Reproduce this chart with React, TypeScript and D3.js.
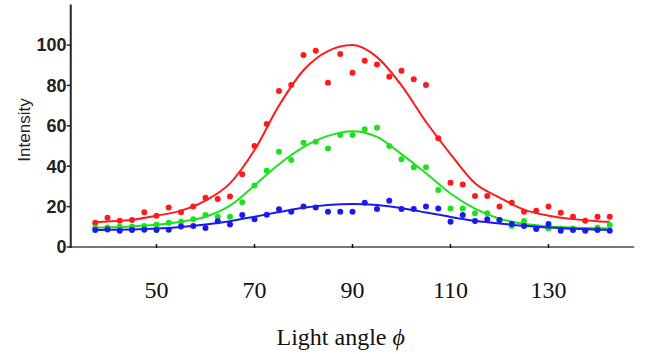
import React from 'react'
import * as d3 from 'd3'

// measured angles, 2.5 degree steps
const angles = d3.range(43).map(i => 37.5 + 2.5 * i)

const redPoints = [12, 14.5, 13, 13.4, 17.2, 15.5, 19.6, 17.2, 20, 24.4, 23.8, 25, 36, 50, 60.9, 77.2, 80.2, 95, 97.2, 81.3, 95.6, 86.3, 92.2, 90.4, 84.3, 87.3, 83, 80.2, 53.8, 31.8, 31, 25.2, 25.2, 20, 21.9, 17.5, 18, 20, 17, 15, 13, 15, 15]
const greenPoints = [9.5, 9.7, 10, 10, 10.4, 11, 12, 12.5, 13.7, 15.8, 15, 15, 22.1, 30.4, 37.8, 47.2, 43.1, 51.6, 52.1, 48.8, 55.4, 55.4, 58.3, 59, 50, 43.4, 39.5, 39.5, 28.2, 19.1, 19.1, 16.7, 16.7, 13.4, 10.4, 12.9, 9.2, 9.2, 9.2, 9.2, 8.4, 9.7, 10.9]
const bluePoints = [8.4, 8.7, 8.0, 8.4, 8.6, 8.4, 8.6, 10.2, 10.4, 9.4, 12.7, 11.2, 15.8, 13.7, 16, 18.7, 17.5, 20, 19.6, 17.5, 17.5, 17.5, 21.9, 18.8, 22.9, 18.8, 18.8, 20, 19.1, 12.5, 15.8, 12.9, 13.7, 13.4, 11.4, 10.4, 8.9, 11.4, 8.1, 8.4, 8.1, 8.4, 8.1]

// fitted curves
const fitAngles = [37.5, 40, 45, 50, 55, 60, 65, 70, 75, 80, 85, 90, 95, 100, 105, 110, 115, 120, 125, 130, 135, 140, 142.5]
const redFit = [12.3, 12.6, 13.5, 15.5, 18, 23, 31.5, 48, 70, 87.5, 97, 100, 94, 80, 62, 46, 31.5, 24.5, 18.5, 15.5, 13.8, 12.8, 12.5]
const greenFit = [9.5, 9.7, 10.2, 11, 12.5, 15, 20.5, 30.5, 41, 49.5, 55, 57.3, 54.5, 46, 36.5, 26.5, 19, 14, 11.5, 10.2, 9.6, 9.3, 9.2]
const blueFit = [8.4, 8.5, 8.7, 9.1, 9.9, 11.1, 12.8, 15, 17.3, 19.4, 20.8, 21.3, 20.8, 19.2, 17.1, 14.9, 13, 11.6, 10.5, 9.6, 9, 8.6, 8.4]

const xTicks = [50, 70, 90, 110, 130]
const yTicks = [0, 20, 40, 60, 80, 100]

const series = [
  { color: '#ff1a1a', points: redPoints, fit: redFit },
  { color: '#1ee01e', points: greenPoints, fit: greenFit },
  { color: '#1a1aee', points: bluePoints, fit: blueFit },
]

const App = () => {
  const width = 646
  const height = 354

  const x = d3.scaleLinear().domain([32.5, 147.5]).range([70.75, 634.25])
  const y = d3.scaleLinear().domain([0, 120]).range([247, 4.6])

  const line = d3.line<number>()
    .x((_, i) => x(fitAngles[i]))
    .y(d => y(d))
    .curve(d3.curveMonotoneX)

  return (
    <svg width={width} height={height} style={{ position: 'absolute', left: 0, top: 0, background: '#fff' }}>
      {/* axes */}
      <line x1={x(32.5)} x2={x(147.5)} y1={y(0)} y2={y(0)} stroke="#777" strokeWidth={2} />
      {xTicks.map(t => (
        <g key={t}>
          <line x1={x(t)} x2={x(t)} y1={y(0) - 3} y2={y(0) + 1} stroke="#111" strokeWidth={1.5} />
          <text x={x(t)} y={298} textAnchor="middle" fontFamily="'Liberation Serif', 'Times New Roman', serif" fontSize={24} fill="#111">{t}</text>
        </g>
      ))}
      <line x1={x(32.5)} x2={x(32.5)} y1={y(120)} y2={y(0) + 1} stroke="#222" strokeWidth={2} />
      {yTicks.map(t => (
        <g key={t}>
          <line x1={x(32.5) - 4} x2={x(32.5)} y1={y(t)} y2={y(t)} stroke="#222" strokeWidth={1.5} />
          <text x={66.5} y={y(t)} dy="0.35em" textAnchor="end" fontFamily="'Liberation Sans', Arial, sans-serif" fontWeight="bold" fontSize={18} fill="#222">{t}</text>
        </g>
      ))}
      <text transform="translate(30,130) rotate(-90)" textAnchor="middle" fontFamily="'Liberation Sans', Arial, sans-serif" fontSize={17} fill="#222">Intensity</text>

      {/* data */}
      {series.map(s => (
        <g key={s.color}>
          <path d={line(s.fit) ?? ''} fill="none" stroke={s.color} strokeWidth={2} />
          {s.points.map((v, i) => (
            <circle key={i} cx={x(angles[i])} cy={y(v)} r={3} fill={s.color} />
          ))}
        </g>
      ))}

      <text x={340.7} y={345} textAnchor="middle" fontFamily="'Liberation Serif', 'Times New Roman', serif" fontSize={24} fill="#111">
        Light angle <tspan fontStyle="italic">ϕ</tspan>
      </text>
    </svg>
  )
}

export default App
